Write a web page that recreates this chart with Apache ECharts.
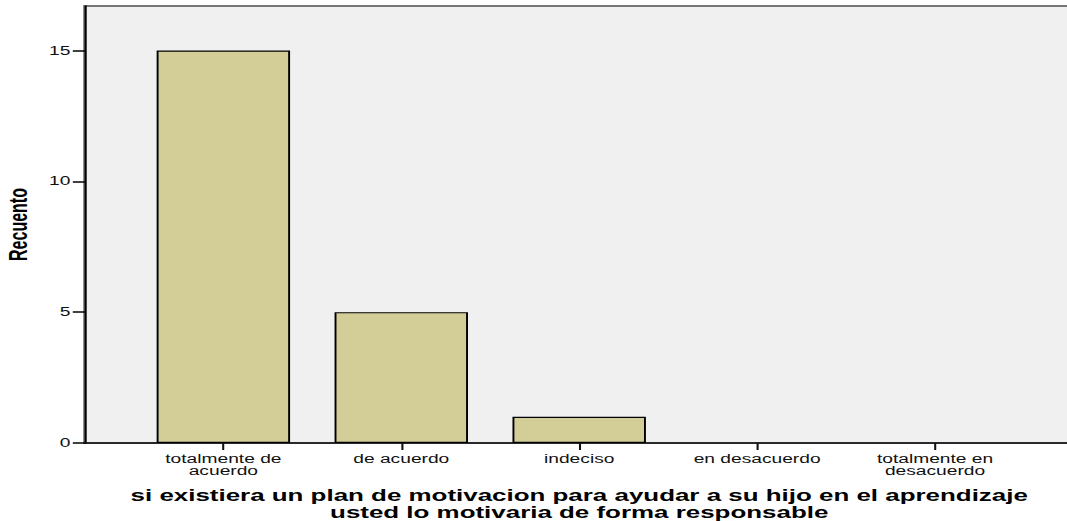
<!DOCTYPE html>
<html>
<head>
<meta charset="utf-8">
<script src="https://cdn.jsdelivr.net/npm/echarts@6/dist/echarts.min.js"></script>
<style>
  html, body { margin: 0; padding: 0; background: #fff; overflow: hidden; }
  /* el grafico original viene estirado en horizontal (~1.6x) */
  #chart { width: 667px; height: 521px; transform: scaleX(1.6); transform-origin: 0 0; }
</style>
</head>
<body>
<div id="chart"></div>
<script>
// respuestas de la encuesta
const categories = ['totalmente de\nacuerdo', 'de acuerdo', 'indeciso', 'en desacuerdo', 'totalmente en\ndesacuerdo']
const counts = [15, 5, 1, 0, 0]
const yTicks = [0, 5, 10, 15]

const chart = echarts.init(document.getElementById('chart'), null, { renderer: 'svg' })
const font = 'Liberation Sans, Arial, sans-serif'

// las barras con valor 0 no dibujan borde
const barData = counts.map(v => v === 0 ? { value: v, itemStyle: { borderWidth: 0 } } : v)

const option = {
  animation: false,
  grid: [
    // fondo gris y eje vertical
    { left: 53, right: -5, top: 6, bottom: 78, outerBoundsMode: 'none', show: true, backgroundColor: '#f0f0f0', borderColor: '#777', borderWidth: 2 },
    // zona de las categorias
    { left: 84, right: 27, top: 6, bottom: 78, outerBoundsMode: 'none' }
  ],
  xAxis: [
    {
      gridIndex: 0, type: 'value', min: 0, max: 1,
      axisLine: { show: true, lineStyle: { color: '#111', width: 1.5 } },
      axisTick: { show: false }, axisLabel: { show: false }, splitLine: { show: false }
    },
    {
      gridIndex: 1, type: 'category', data: categories,
      axisLine: { show: false },
      axisTick: { show: true, alignWithLabel: true, length: 7, lineStyle: { color: '#111', width: 1.3 } },
      axisLabel: { color: '#111', fontFamily: font, fontSize: 12, lineHeight: 12, margin: 10 },
      name: 'si existiera un plan de motivacion para ayudar a su hijo en el aprendizaje\nusted lo motivaria de forma responsable',
      nameLocation: 'middle',
      nameGap: 44,
      nameTextStyle: { color: '#000', fontFamily: font, fontSize: 16.2, fontWeight: 'bold', lineHeight: 17 }
    }
  ],
  yAxis: [
    {
      gridIndex: 0, type: 'value', min: 0, max: 16.7,
      axisLine: { show: true, lineStyle: { color: '#000', width: 1.3 } },
      axisTick: { show: true, length: 7.5, customValues: yTicks, lineStyle: { color: '#000', width: 1.5 } },
      axisLabel: { customValues: yTicks, color: '#111', fontFamily: font, fontSize: 12, margin: 9 },
      splitLine: { show: false },
      name: 'Recuento',
      nameLocation: 'middle',
      nameGap: 30,
      nameTextStyle: { color: '#000', fontFamily: font, fontSize: 16, fontWeight: 'bold' }
    },
    { gridIndex: 1, type: 'value', min: 0, max: 16.7, show: false }
  ],
  series: [
    {
      type: 'bar',
      xAxisIndex: 1,
      yAxisIndex: 1,
      data: barData,
      barCategoryGap: '25%',
      itemStyle: { color: '#d3ce98', borderColor: '#000', borderWidth: 1.2 }
    }
  ]
}
chart.setOption(option)
</script>
</body>
</html>
